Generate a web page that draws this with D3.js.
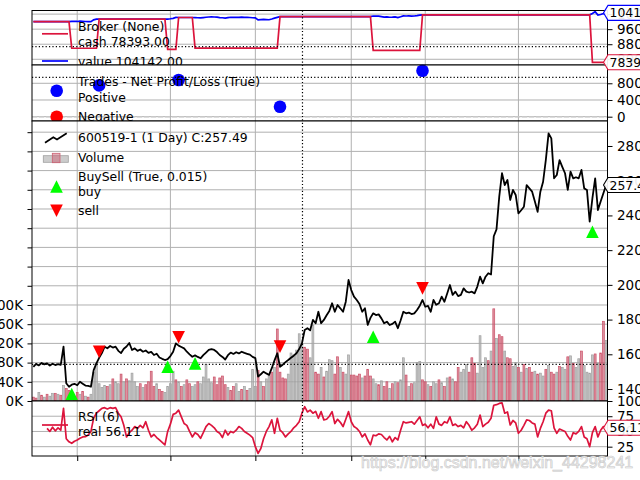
<!DOCTYPE html>
<html><head><meta charset="utf-8">
<script src="https://cdn.jsdelivr.net/npm/d3@7"></script>
<style>body{margin:0;background:#fff} svg{display:block}</style>
</head><body><svg id="c" width="640" height="480"></svg>
<script>
// ---------------- data ----------------
const closes = [
152.8,154.5,153.6,155.0,154.2,154.8,153.5,154.6,153.8,154.3,
153.9,164.4,143.3,141.3,142.5,143.0,142.2,144.2,143.1,142.0,
141.8,141.3,150.9,154.8,158.0,160.7,164.4,163.5,164.8,163.9,
164.4,162.0,160.7,163.2,164.5,166.5,162.5,163.4,162.0,162.8,
161.5,162.2,160.8,161.4,159.6,160.3,158.2,157.4,156.7,157.2,
159.0,161.5,166.3,165.0,164.2,163.4,161.5,160.0,158.6,159.4,
158.5,157.7,159.5,161.0,162.5,163.0,162.5,161.3,159.6,158.5,
157.0,159.5,161.0,160.2,161.2,160.5,161.5,160.8,160.3,159.8,
158.5,157.8,147.1,148.5,150.0,149.0,148.1,152.0,156.5,160.6,
152.8,154.0,155.5,156.7,158.0,159.2,160.6,163.0,166.3,174.0,
175.0,173.8,179.8,177.9,184.5,177.9,179.8,182.5,185.0,189.4,
184.5,188.4,186.5,184.5,190.3,202.8,197.0,193.2,191.3,189.0,
184.5,186.5,176.9,181.0,183.6,182.6,183.0,180.7,177.9,178.8,
176.9,177.5,178.8,175.0,179.5,184.5,183.6,184.0,183.2,183.6,
185.5,188.0,191.3,187.4,187.9,184.5,191.3,188.5,189.4,193.2,
190.3,195.0,199.9,194.2,196.1,193.5,194.2,198.0,196.1,195.6,
196.1,195.1,199.0,204.7,200.9,204.7,206.7,206.0,228.0,232.0,
250.8,264.3,257.5,260.4,248.9,254.7,251.8,241.2,243.0,245.0,
257.5,255.6,253.7,248.0,242.1,253.7,259.4,272.0,287.3,284.4,
261.4,263.3,271.9,268.0,264.3,254.7,265.2,261.4,262.0,261.4,
266.2,255.6,254.7,236.4,250.0,261.4,243.1,248.0,252.8,257.49];

// volume in thousands
const volumes = [
8,6,18,12,8,14,10,16,16,14,
12,32,26,22,12,10,18,14,20,10,
8,14,60,78,36,28,32,30,34,46,
40,36,56,40,46,42,58,40,30,36,
28,34,40,62,30,36,24,20,18,30,
36,62,44,40,30,34,44,36,30,34,
40,36,50,76,46,38,50,34,48,52,
34,28,22,30,36,20,24,30,22,26,
66,30,64,40,30,46,52,60,70,150,
60,48,46,56,100,96,106,140,120,112,
108,90,158,60,56,70,50,62,86,84,
56,92,70,60,56,96,54,54,52,56,
48,52,66,52,46,36,34,42,30,40,
26,36,40,38,44,90,54,30,36,38,
80,82,44,40,34,30,40,36,44,38,
30,48,50,46,40,70,60,66,76,60,
90,78,58,136,70,90,84,104,192,130,
138,134,104,90,88,72,80,70,60,76,
68,70,60,62,56,58,52,66,74,60,
56,60,72,70,66,92,94,78,70,88,
104,74,60,58,96,98,78,100,166,126];
// r = down bar (red), g = up bar (grey)
const volDir =
"rrgrgrggrg"+"rgrrgrrgrg"+"rggggggrgr"+"ggrgrggggr"+"grrrrgrrgg"+
"ggrgrgrrgg"+"rgggggrrrr"+"rgrrggrgrg"+"ggrgrggrgr"+"rrrggggggr"+
"rggrrgrggg"+"rrgrggrrrr"+"grrrggrgrr"+"grgrggrgrg"+"ggrrgrggrg"+
"rgrgrrgggr"+"rrggggrgrg"+"rrgrrggrgr"+"grrgrggrgr"+"rgrggrgrgg"+
"rggggrgrrg";

const rsi = [
null,null,null,null,null,55,50,57,51,56,
52,88,38,33,30.6,34,36,38.8,41,41.4,
44,50,72,80,84,88,89,87,89,88,
89,80,74,60,41,48,52,58,55,60,
56,66,52,41,45,40,36,32,28,50,
62,78,80,85,74,63,60,50,41,48,
45,38.8,48,58,63,60,56,50,47,40,
52,44,50,48,52,58,55,50,47,44,
40,25,14,22,38,50,58,69,47,71.6,
52,48,41,46,50,56,60,66,80,90.6,
82,85,80,83,71.6,82.5,69,70,75,82.5,
63,70,65,58,70,82.5,66,58,55,50,
41,46,36,28,44,43,46,45,40,36,
42,33,40,36,52,66,64,65,66,62,
68,74,60,62,56,62,55,74,62,60,
66,64,74,60,62,58,60,56,66,60,
52,56,62,77,58,62,65,71.6,93,94,
96,97,80,82,60.6,68,64,47,52,60,
69,68,64,62,41,55,66,80,85,84,
56,47,54,52,50,42,36,48,46,50,
58,41,38,25,48,58,41,52,58,56.11];

const cash = [
100000,100000,100000,100000,100000,100000,100000,100000,100000,100000,
100000,100000,100000,100000,85870,85870,85870,85870,85870,85870,
85870,85870,85870,85870,101300,101300,101300,101300,101300,101300,
101300,101300,101300,101300,101300,101300,101300,101300,101300,101300,
101300,101300,101300,101300,101300,101300,101300,101300,101300,85300,
85300,85300,85300,102200,102200,102200,102200,102200,102200,85900,
85900,85900,85900,85900,85900,85900,85900,85900,85900,85900,
85900,85900,85900,85900,85900,85900,85900,85900,85900,85900,
85900,85900,85900,85900,85900,85900,85900,85900,85900,85900,
102700,102700,102700,102700,102700,102700,102700,102700,102700,102700,
102700,102700,102700,102700,102700,102700,102700,102700,102700,102700,
102700,102700,102700,102700,102700,102700,102700,102700,102700,102700,
102700,102700,102700,102700,84700,84700,84700,84700,84700,84700,
84700,84700,84700,84700,84700,84700,84700,84700,84700,84700,
84700,84700,103600,103600,103600,103600,103600,103600,103600,103600,
103600,103600,103600,103600,103600,103600,103600,103600,103600,103600,
103600,103600,103600,103600,103600,103600,103600,103600,103600,103600,
103600,103600,103600,103600,103600,103600,103600,103600,103600,103600,
103600,103600,103600,103600,103600,103600,103600,103600,103600,103600,
103600,103600,103600,103600,103600,103600,103600,103600,103600,103600,
103600,103600,103600,103600,78393,78393,78393,78393,78393,78393];

const portfolioValue = [
100000,100000,100000,100000,100000,100000,100000,100000,100000,100000,
100000,100000,100000,100000,100120,100170,100090,100290,100180,100070,
100050,100000,100960,101350,101300,101300,101300,101300,101300,101300,
101300,101300,101300,101300,101300,101300,101300,101300,101300,101300,
101300,101300,101300,101300,101300,101300,101300,101300,101300,101330,
101520,101770,102260,102200,102200,102200,102200,102200,102200,102159,
102067,101985,102169,102322,102475,102526,102475,102353,102179,102067,
101914,102169,102322,102240,102342,102271,102373,102302,102251,102200,
102067,101996,100904,101047,101200,101098,101006,101404,101863,102281,
102700,102700,102700,102700,102700,102700,102700,102700,102700,102700,
102700,102700,102700,102700,102700,102700,102700,102700,102700,102700,
102700,102700,102700,102700,102700,102700,102700,102700,102700,102700,
102700,102700,102700,102700,102993,102895,102934,102709,102434,102522,
102336,102395,102522,102150,102591,103081,102993,103032,102954,102993,
103179,103424,103600,103600,103600,103600,103600,103600,103600,103600,
103600,103600,103600,103600,103600,103600,103600,103600,103600,103600,
103600,103600,103600,103600,103600,103600,103600,103600,103600,103600,
103600,103600,103600,103600,103600,103600,103600,103600,103600,103600,
103600,103600,103600,103600,103600,103600,103600,103600,103600,103600,
103600,103600,103600,103600,103600,103600,103600,103600,103600,103600,
103600,103600,103600,103600,104300,105300,103500,103800,104300,104142];

const buyIdx = [14, 49, 59, 124, 204];
const buyPrice = [137.1, 152.8, 154.8, 170.1, 230.6];
const sellIdx = [24, 53, 90, 142];
const sellPrice = [161.5, 169.8, 164.4, 198.0];
const tradeIdx = [24, 53, 90, 142];
const tradePnl = [750, 880, 240, 1100];

const xTickIdx = [16, 50, 81, 116, 143, 177];
const brokerTicks = [80000, 88000, 96000, 104000];
const tradeTicks = [0, 400, 800];
const priceTicks = [140, 160, 180, 200, 220, 240, 260, 280];
const volTicks = [0,40,80,120,160,200,240,280,320,360,400,440,480,520,560];
const volLabelMax = 200;
const rsiTicks = [25, 50, 75, 100];
const cursorIdx = 98.2, cursorBroker = 86720, cursorTrades = 944, cursorPrice = 154.2;

// ---------------- drawing ----------------
const N = closes.length;
const svg = d3.select("#c");
const L = 32, R = 607.5;
const FONT = 12.4, TFONT = 13.5;
const GRID = "#b0b0b0";
const CRIMSON = "#dc143c";
const x = d3.scaleLinear().domain([-0.5, N - 0.5]).range([L, R]);
const P = [{t:10.5,b:65},{t:65,b:121},{t:121,b:401},{t:401,b:456}];
const yB = d3.scaleLinear().domain([76960, 105920]).range([P[0].b, P[0].t]);
const yT = d3.scaleLinear().domain([-103, 1238]).range([P[1].b, P[1].t]);
const yP = d3.scaleLinear().domain([133.1, 294.4]).range([P[2].b, P[2].t]);
const yV = d3.scaleLinear().domain([0, 583.3]).range([P[2].b, P[2].t]);
const yR = d3.scaleLinear().domain([9.7, 100]).range([P[3].b, P[3].t]);
const idx = d3.range(N);

function panelBase(p, yScale, hTicks) {
  const g = svg.append("g");
  g.append("rect").attr("x", L).attr("y", p.t).attr("width", R - L).attr("height", p.b - p.t).attr("fill", "#fff");
  g.selectAll(".vg").data(xTickIdx).enter().append("line")
    .attr("x1", d => x(d)).attr("x2", d => x(d)).attr("y1", p.t).attr("y2", p.b)
    .attr("stroke", GRID).attr("stroke-width", 1);
  g.selectAll(".hg").data(hTicks).enter().append("line")
    .attr("x1", L).attr("x2", R).attr("y1", d => yScale(d)).attr("y2", d => yScale(d))
    .attr("stroke", GRID).attr("stroke-width", 1);
  return g;
}
function frame(p) {
  svg.append("rect").attr("x", L).attr("y", p.t).attr("width", R - L).attr("height", p.b - p.t)
    .attr("fill", "none").attr("stroke", "#000").attr("stroke-width", 1);
}
function styleAxisText(sel) {
  sel.selectAll("text").style("font-size", TFONT + "px").style("font-family", "'DejaVu Sans', sans-serif").attr("fill", "#000");
  sel.selectAll("line").attr("stroke", "#000");
}
function rightAxis(yScale, ticks, fmt) {
  const a = svg.append("g").attr("transform", `translate(${R},0)`)
    .call(d3.axisRight(yScale).tickValues(ticks).tickSize(5).tickPadding(4.5).tickFormat(fmt));
  a.select(".domain").remove();
  styleAxisText(a);
}
function txt(g, xx, yy, s, size) {
  g.append("text").attr("x", xx).attr("y", yy).attr("dominant-baseline", "central")
    .style("font-size", (size || FONT) + "px").style("font-family", "'DejaVu Sans', sans-serif")
    .attr("fill", "#000").text(s);
}
function hdot(g, yy) {
  g.append("line").attr("x1", L).attr("x2", R).attr("y1", yy).attr("y2", yy)
    .attr("stroke", "#000").attr("stroke-width", 1.2).attr("stroke-dasharray", "1.2,2.2");
}
function tri(g, cx, cy, up, color) {
  const s = 6.3;
  const pts = up ? [[cx, cy - s], [cx + s, cy + s], [cx - s, cy + s]]
                 : [[cx, cy + s], [cx + s, cy - s], [cx - s, cy - s]];
  g.append("path").attr("d", "M" + pts.map(p => p.join(",")).join("L") + "Z").attr("fill", color);
}

// ---- Panel 1: broker
const g1 = panelBase(P[0], yB, brokerTicks);
g1.append("path").attr("d", d3.line().x(i => x(i)).y(i => yB(portfolioValue[i]))(idx))
  .attr("fill", "none").attr("stroke", "#0000ff").attr("stroke-width", 1.7);
g1.append("path").attr("d", d3.line().x(i => x(i)).y(i => yB(cash[i]))(idx))
  .attr("fill", "none").attr("stroke", CRIMSON).attr("stroke-width", 1.7);
hdot(g1, yB(cursorBroker));
g1.append("line").attr("x1", 42).attr("x2", 68).attr("y1", 33.8).attr("y2", 33.8).attr("stroke", CRIMSON).attr("stroke-width", 1.7);
txt(g1, 78, 26, "Broker (None)");
txt(g1, 78, 41, "cash " + cash[N - 1].toFixed(2));
g1.append("line").attr("x1", 42).attr("x2", 68).attr("y1", 61).attr("y2", 61).attr("stroke", "#0000ff").attr("stroke-width", 1.7);
txt(g1, 78, 61, "value " + portfolioValue[N - 1].toFixed(2));
frame(P[0]);
rightAxis(yB, brokerTicks, d => String(d));

// ---- Panel 2: trades
const g2 = panelBase(P[1], yT, tradeTicks);
g2.append("line").attr("x1", L).attr("x2", R).attr("y1", yT(0)).attr("y2", yT(0))
  .attr("stroke", "#c8c8c8").attr("stroke-width", 1.6).attr("stroke-dasharray", "5,2");
g2.selectAll(".td").data(tradeIdx).enter().append("circle")
  .attr("cx", (d) => x(d)).attr("cy", (d, k) => yT(tradePnl[k])).attr("r", 6.3).attr("fill", "#0000ff");
hdot(g2, yT(cursorTrades));
g2.append("circle").attr("cx", 56.7).attr("cy", 90.7).attr("r", 6.3).attr("fill", "#0000ff");
txt(g2, 78, 81.7, "Trades - Net Profit/Loss (True)");
txt(g2, 78, 97.3, "Positive");
g2.append("circle").attr("cx", 56.7).attr("cy", 116.7).attr("r", 6.3).attr("fill", "#ff0000");
txt(g2, 78, 116.7, "Negative");
frame(P[1]);
rightAxis(yT, tradeTicks, d => String(d));

// ---- Panel 3: price + volume
const g3 = panelBase(P[2], yV, volTicks);
const bw = (x(1) - x(0)) * 0.68;
g3.selectAll(".vb").data(idx).enter().append("rect")
  .attr("x", i => x(i) - bw / 2).attr("y", i => yV(volumes[i]))
  .attr("width", bw).attr("height", i => yV(0) - yV(volumes[i]))
  .attr("fill", i => volDir[i] === "r" ? "#cc6073" : "#aaaaaa").attr("fill-opacity", 0.68)
  .attr("stroke", i => volDir[i] === "r" ? "#cc5068" : "#a0a0a0").attr("stroke-width", 0.7);
hdot(g3, yP(cursorPrice));
g3.append("path").attr("d", d3.line().x(i => x(i)).y(i => yP(closes[i]))(idx))
  .attr("fill", "none").attr("stroke", "#000").attr("stroke-width", 1.8).attr("stroke-linejoin", "round");
buyIdx.forEach((d, k) => tri(g3, x(d), yP(buyPrice[k]), true, "#00ff00"));
sellIdx.forEach((d, k) => tri(g3, x(d), yP(sellPrice[k]), false, "#ff0000"));
// legend
g3.append("path").attr("d", "M45,142.7L53.3,137.3L57,139.5L66.7,133.3").attr("fill", "none").attr("stroke", "#000").attr("stroke-width", 1.8);
txt(g3, 78, 137.7, "600519-1 (1 Day) C:" + closes[N - 1].toFixed(2));
g3.append("rect").attr("x", 43.3).attr("y", 155.7).attr("width", 25).attr("height", 6.6).attr("fill", "#aaaaaa").attr("fill-opacity", 0.6).attr("stroke", "#a0a0a0").attr("stroke-width", 0.8);
g3.append("rect").attr("x", 52.3).attr("y", 153.3).attr("width", 7.7).attr("height", 9.4).attr("fill", "#cc6073").attr("fill-opacity", 0.5).attr("stroke", "#cc6073").attr("stroke-width", 0.8);
txt(g3, 78, 157.7, "Volume");
txt(g3, 78, 176.7, "BuySell (True, 0.015)");
tri(g3, 56.5, 186.5, true, "#00ff00");
txt(g3, 78, 191.7, "buy");
tri(g3, 56.5, 210.8, false, "#ff0000");
txt(g3, 78, 210, "sell");
frame(P[2]);
rightAxis(yP, priceTicks, d => String(d));
const la = svg.append("g").attr("transform", `translate(${L},0)`)
  .call(d3.axisLeft(yV).tickValues(volTicks).tickSize(4.5).tickPadding(4.5).tickFormat(d => d <= volLabelMax ? d + "K" : ""));
la.select(".domain").remove();
styleAxisText(la);

// ---- Panel 4: RSI
const g4 = panelBase(P[3], yR, [25, 50, 75]);
g4.append("path").attr("d", d3.line().defined(i => rsi[i] != null).x(i => x(i)).y(i => yR(rsi[i]))(idx))
  .attr("fill", "none").attr("stroke", CRIMSON).attr("stroke-width", 1.7).attr("stroke-linejoin", "round");
g4.append("line").attr("x1", 42).attr("x2", 68).attr("y1", 425).attr("y2", 425).attr("stroke", CRIMSON).attr("stroke-width", 1.7);
txt(g4, 78, 416.7, "RSI (6)");
txt(g4, 78, 431.7, "real " + rsi[N - 1].toFixed(2));
frame(P[3]);
rightAxis(yR, rsiTicks, d => String(d));
const ba = svg.append("g").attr("transform", `translate(0,${P[3].b})`)
  .call(d3.axisBottom(x).tickValues(xTickIdx).tickSize(5).tickFormat(""));
ba.select(".domain").remove();
ba.selectAll("line").attr("stroke", "#000");

// cursor vertical line
svg.append("line").attr("x1", x(cursorIdx)).attr("x2", x(cursorIdx)).attr("y1", P[0].t).attr("y2", P[3].b)
  .attr("stroke", "#000").attr("stroke-width", 1.2).attr("stroke-dasharray", "1.2,2.2");

// last-value tags
function tag(yc, s, color) {
  const h = 15, tip = 603.5;
  svg.append("path").attr("d", `M${tip},${yc}L${tip + 4.5},${yc - h / 2}L${650},${yc - h / 2}L${650},${yc + h / 2}L${tip + 4.5},${yc + h / 2}Z`)
    .attr("fill", "#fff").attr("fill-opacity", 0.92).attr("stroke", color).attr("stroke-width", 1.1);
  svg.append("text").attr("x", 609.5).attr("y", yc).attr("dominant-baseline", "central")
    .style("font-size", FONT + "px").style("font-family", "'DejaVu Sans', sans-serif").attr("fill", "#000").text(s);
}
tag(yB(portfolioValue[N - 1]) - 1, portfolioValue[N - 1].toFixed(2), "#0000ff");
tag(yB(cash[N - 1]), cash[N - 1].toFixed(2), CRIMSON);
tag(yP(closes[N - 1]), closes[N - 1].toFixed(2), "#000");
tag(yR(rsi[N - 1]), rsi[N - 1].toFixed(2), CRIMSON);

// watermark
svg.append("text").attr("x", 361).attr("y", 468)
  .style("font-family", "'Liberation Sans', Arial, sans-serif").style("font-size", "16px")
  .attr("fill", "#f4f4f4").attr("stroke", "#c8c8c8").attr("stroke-width", 0.6)
  .text("https://blog.csdn.net/weixin_44298241");
</script></body></html>
